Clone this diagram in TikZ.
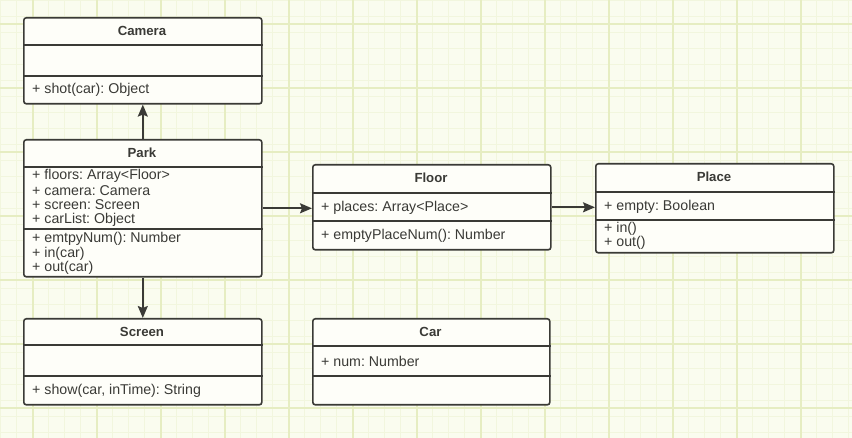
\documentclass[tikz,border=0pt]{standalone}
\usepackage{fontspec}
\setmainfont{Liberation Sans}
\usetikzlibrary{arrows.meta}
\frenchspacing
\definecolor{bgc}{HTML}{FAFCEF}
\definecolor{gridminor}{HTML}{F2F6DE}
\definecolor{gridmajor}{HTML}{E6EDC2}
\definecolor{linec}{HTML}{3A3A36}
\definecolor{boxfill}{HTML}{FEFEF9}
\definecolor{txt}{HTML}{3A3A36}
\tikzset{
  umlbox/.style={draw=linec, line width=1.6pt, rounded corners=2.5pt, fill=boxfill, inner sep=0pt, anchor=north west},
  divider/.style={draw=linec, line width=1.3pt},
  ttl/.style={font=\fontsize{13.2}{14}\selectfont\bfseries, text=txt, inner sep=0pt},
  attr/.style={font=\fontsize{14.2}{14}\selectfont, text=txt, inner sep=0pt, anchor=west},
  arr/.style={draw=linec, line width=1.8pt, -{Stealth[length=12pt,width=10pt,inset=2pt]}}
}
\begin{document}
\begin{tikzpicture}[x=1pt,y=-1pt]
\useasboundingbox (0,0) rectangle (852,438);
% background
\fill[bgc] (0,0) rectangle (852,438);
\foreach \i in {0,16,...,852} {\draw[gridminor, line width=0.8pt] (\i,0) -- (\i,438);}
\foreach \j in {0,16,...,438} {\draw[gridminor, line width=0.8pt] (0,\j) -- (852,\j);}
\foreach \i in {33,97,...,852} {\draw[gridmajor, line width=1.4pt] (\i,0) -- (\i,438);}
\foreach \j in {24,88,...,438} {\draw[gridmajor, line width=1.4pt] (0,\j) -- (852,\j);}

% Camera
\node[umlbox, minimum width=238pt, minimum height=86pt] (camera) at (23,17) {};
\draw[divider] (camera.west |- 0,45) -- (camera.east |- 0,45);
\draw[divider] (camera.west |- 0,76) -- (camera.east |- 0,76);
\node[ttl] (cameraT) at (142,31) {Camera};
\node[attr] (cameraM1) at (32,90) {+ shot(car): Object};

% Park
\node[umlbox, minimum width=238pt, minimum height=137pt] (park) at (23,139) {};
\draw[divider] (park.west |- 0,167) -- (park.east |- 0,167);
\draw[divider] (park.west |- 0,229) -- (park.east |- 0,229);
\node[ttl] (parkT) at (142,153) {Park};
\node[attr] (parkA1) at (32,176) {+ floors: Array<Floor>};
\node[attr] (parkA2) at (32,190.5) {+ camera: Camera};
\node[attr] (parkA3) at (32,205) {+ screen: Screen};
\node[attr] (parkA4) at (32,220) {+ carList: Object};
\node[attr] (parkM1) at (32,238.5) {+ emtpyNum(): Number};
\node[attr] (parkM2) at (32,253.5) {+ in(car)};
\node[attr] (parkM3) at (32,268) {+ out(car)};

% Screen
\node[umlbox, minimum width=238pt, minimum height=86pt] (screen) at (23,318) {};
\draw[divider] (screen.west |- 0,345) -- (screen.east |- 0,345);
\draw[divider] (screen.west |- 0,376) -- (screen.east |- 0,376);
\node[ttl] (screenT) at (142,332) {Screen};
\node[attr] (screenM1) at (32,391) {+ show(car, inTime): String};

% Car
\node[umlbox, minimum width=237pt, minimum height=86pt] (car) at (312,318) {};
\draw[divider] (car.west |- 0,346) -- (car.east |- 0,346);
\draw[divider] (car.west |- 0,376) -- (car.east |- 0,376);
\node[ttl] (carT) at (430.5,332) {Car};
\node[attr] (carA1) at (321,361) {+ num: Number};

% Floor
\node[umlbox, minimum width=238pt, minimum height=85pt] (floor) at (312,164) {};
\draw[divider] (floor.west |- 0,193) -- (floor.east |- 0,193);
\draw[divider] (floor.west |- 0,221) -- (floor.east |- 0,221);
\node[ttl] (floorT) at (431,178) {Floor};
\node[attr] (floorA1) at (321,207.5) {+ places: Array<Place>};
\node[attr] (floorM1) at (321,236) {+ emptyPlaceNum(): Number};

% Place
\node[umlbox, minimum width=238pt, minimum height=89pt] (place) at (595,163) {};
\draw[divider] (place.west |- 0,192) -- (place.east |- 0,192);
\draw[divider] (place.west |- 0,220) -- (place.east |- 0,220);
\node[ttl] (placeT) at (714,177) {Place};
\node[attr] (placeA1) at (604,206.5) {+ empty: Boolean};
\node[attr, align=left, font=\fontsize{14.2}{12.5}\selectfont] (placeM) at (604,235.5) {+ in()\\+ out()};

% connectors
\draw[arr] (park.north) -- (camera.south);
\draw[arr] (park.south) -- (screen.north);
\draw[arr] (park.east) -- (floor.west |- park.east);
\draw[arr] (floor.east) -- (place.west |- floor.east);
\end{tikzpicture}
\end{document}
